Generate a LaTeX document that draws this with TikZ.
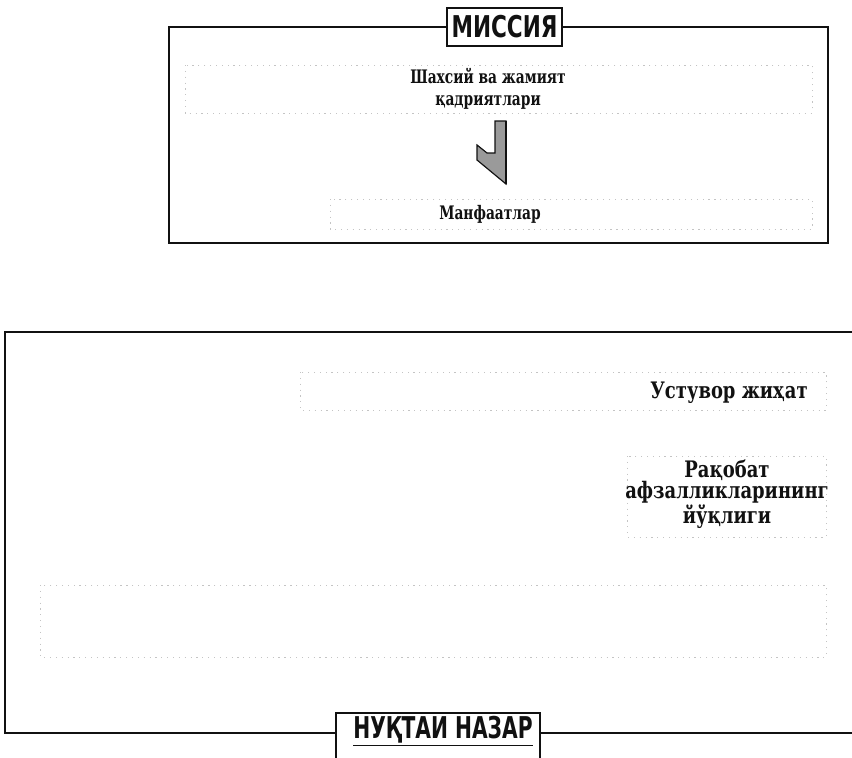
\documentclass[tikz,border=0pt]{standalone}
\usepackage{fontspec}
\setmainfont{DejaVu Serif}
\newfontfamily\topfont{DejaVu Serif}[FakeStretch=0.74]
\newfontfamily\lowfont{DejaVu Serif}[FakeStretch=0.79]
\newfontfamily\headfont{DejaVu Sans}[FakeStretch=0.72]
\newfontfamily\footfont{DejaVu Sans}[FakeStretch=0.675]
\usepackage{xcolor}
\definecolor{schemeink}{HTML}{111111}
\definecolor{schemefaint}{HTML}{C4C4C4}
\definecolor{schemearrow}{HTML}{9A9A9A}

\begin{document}
\begin{tikzpicture}[
  x=0.03cm,
  y=-0.03cm,
  every node/.style={text=schemeink, align=center, inner sep=0pt},
  toptext/.style={font=\fontsize{15.9}{18.7}\selectfont\topfont\bfseries},
  lowtext/.style={font=\fontsize{19.4}{18}\selectfont\lowfont\bfseries},
  frame/.style={draw=schemeink, line width=1.6pt},
  headframe/.style={draw=schemeink, line width=1.4pt, fill=white},
  headtext/.style={font=\fontsize{25.6}{28}\selectfont\headfont\bfseries},
  foottext/.style={font=\fontsize{25.6}{28}\selectfont\footfont\bfseries},
  faintbox/.style={draw=schemefaint, line width=0.6pt, dash pattern=on 1pt off 4pt}
]
  \useasboundingbox (0,0) rectangle (852,757);
  \clip (0,0) rectangle (852,757);

  \draw[frame] (169,27) rectangle (828,243);
  \draw[frame] (5,332) rectangle (880,733);

  \draw[faintbox] (185,65) rectangle (812,113);
  \draw[faintbox] (330,199) rectangle (812,229);
  \draw[faintbox] (300,372) rectangle (826,410);
  \draw[faintbox] (627,456) rectangle (826,537);
  \draw[faintbox] (40,585) rectangle (826,657);

  \path[headframe] (447,8) rectangle (562,46);
  \node[headtext] (missiontitle) at (504.5,27) {МИССИЯ};

  \path[headframe] (336,713) rectangle (540,790);
  \node[foottext] (viewtitle) at (443,731) {\underline{НУҚТАИ НАЗАР}};

  \node[toptext] (values) at (488,89) {Шахсий ва жамият\\қадриятлари};
  \node[toptext] (interests) at (490,214) {Манфаатлар};
  \node[lowtext] (priority) at (729,393) {Устувор жиҳат};
  \node[lowtext] (advantage) at (727,494) {Рақобат\\афзалликларининг\\йўқлиги};

  \coordinate (arrowtop) at (495,121);
  \draw[schemeink, line width=1pt, fill=schemearrow, line join=miter]
    (arrowtop) -- ++(11,0) -- ++(0,63) -- ++(-29,-24) -- ++(0,-15)
    -- ++(10,8) -- ++(8,0) -- cycle;
  \draw[schemeink, line width=2pt] (506,121) -- (506,184);
\end{tikzpicture}
\end{document}
